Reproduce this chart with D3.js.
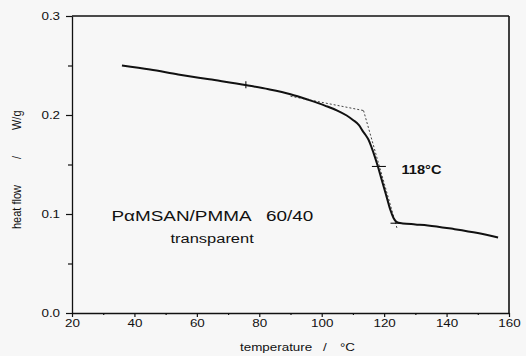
<!DOCTYPE html>
<html>
<head>
<meta charset="utf-8">
<script src="https://cdn.jsdelivr.net/npm/d3@7"></script>
<style>
  html, body { margin: 0; padding: 0; background: #f7f7f7; }
  svg { display: block; }
  text { font-family: "Liberation Sans", Arial, sans-serif; fill: #111; }
</style>
</head>
<body>
<svg id="chart" width="526" height="356"></svg>
<script>
// DSC trace: heat flow vs temperature
const temperature = [36, 45, 54, 64, 76, 83, 90, 96, 101, 105, 108, 110, 112, 113, 114, 115, 116, 117, 118, 119, 120, 121, 122, 123, 123.8, 124.6, 126, 130, 134, 142, 150, 156.5];
const heatFlow    = [0.250, 0.246, 0.241, 0.236, 0.230, 0.226, 0.221, 0.215, 0.2095, 0.2045, 0.1995, 0.195, 0.1895, 0.1845, 0.180, 0.175, 0.167, 0.158, 0.148, 0.137, 0.126, 0.115, 0.104, 0.096, 0.0925, 0.0912, 0.0905, 0.0895, 0.0885, 0.0850, 0.0808, 0.0762];

// construction lines for the glass transition
const baselineTangent = [[90, 0.219], [113.4, 0.2045]];
const stepTangent     = [[113.4, 0.2045], [124.1, 0.0858]];

// marks on the curve: onset of extrapolation, Tg, end of step
const onsetMark = [75.7, 0.230];
const tgMark    = [118, 0.148];
const endMark   = [124.6, 0.0912];
const tgLabel   = "118°C";

const xMajorTicks = [20, 40, 60, 80, 100, 120, 140, 160];
const xMinorTicks = [30, 50, 70, 90, 110, 130, 150];
const yMajorTicks = [0.0, 0.1, 0.2, 0.3];
const yMinorTicks = [0.05, 0.15, 0.25];

const sampleName = "PαMSAN/PMMA";
const sampleRatio = "60/40";
const sampleNote = "transparent";

const SX = 1.22; // horizontal stretch applied to the lettering

const svg = d3.select("#chart");
const x = d3.scaleLinear().domain([20, 160]).range([72, 509]);
const y = d3.scaleLinear().domain([0, 0.3]).range([313, 16]);

// frame: top and right edges
svg.append("line").attr("x1", x(20)).attr("x2", x(160)).attr("y1", y(0.3)).attr("y2", y(0.3))
  .attr("stroke", "#111").attr("stroke-width", 1.6);
svg.append("line").attr("x1", x(160)).attr("x2", x(160)).attr("y1", y(0.3)).attr("y2", y(0))
  .attr("stroke", "#111").attr("stroke-width", 1.6);

// x axis
const gx = svg.append("g").attr("transform", `translate(0,${y(0)})`)
  .call(d3.axisBottom(x).tickValues(xMajorTicks).tickFormat(d3.format("d"))
    .tickSize(4).tickSizeOuter(0).tickPadding(2.5));
gx.append("g").call(d3.axisBottom(x).tickValues(xMinorTicks).tickFormat("").tickSize(2).tickSizeOuter(0))
  .select(".domain").remove();
gx.selectAll("text").attr("transform", `scale(${SX},1)`).style("font-size", "11px").attr("fill", "#111");

// y axis
const gy = svg.append("g").attr("transform", `translate(${x(20)},0)`)
  .call(d3.axisLeft(y).tickValues(yMajorTicks).tickFormat(d3.format(".1f"))
    .tickSize(6).tickSizeOuter(0).tickPadding(3.8));
gy.append("g").call(d3.axisLeft(y).tickValues(yMinorTicks).tickFormat("").tickSize(4).tickSizeOuter(0))
  .select(".domain").remove();
gy.selectAll("text").attr("transform", `scale(${SX},1)`).style("font-size", "11px").attr("fill", "#111");

svg.selectAll(".domain").attr("stroke", "#111").attr("stroke-width", 1.3);
svg.selectAll(".tick line").attr("stroke", "#111").attr("stroke-width", 1.2);

// axis titles
function stretchedText(px, py, str, size, weight) {
  return svg.append("text")
    .attr("transform", `translate(${px},${py}) scale(${SX},1)`)
    .style("font-size", size + "px")
    .style("font-weight", weight || "normal")
    .text(str);
}
stretchedText(240, 350.5, "temperature", 11);
stretchedText(323, 350.5, "/", 11);
stretchedText(340, 350.5, "°C", 11);

function verticalText(py, str) {
  return svg.append("text")
    .attr("transform", `translate(21,${py}) rotate(-90) scale(1,${SX})`)
    .style("font-size", "11px")
    .text(str);
}
verticalText(229, "heat flow");
verticalText(159, "/");
verticalText(130, "W/g");

// construction lines
const lineGen = d3.line().x(d => x(d[0])).y(d => y(d[1]));
[baselineTangent, stepTangent].forEach(seg => {
  svg.append("path").attr("d", lineGen(seg))
    .attr("fill", "none").attr("stroke", "#444").attr("stroke-width", 1)
    .attr("stroke-dasharray", "2,2");
});

// DSC curve
const curve = d3.line().x(d => x(d[0])).y(d => y(d[1])).curve(d3.curveMonotoneX);
svg.append("path").datum(d3.zip(temperature, heatFlow))
  .attr("d", curve)
  .attr("fill", "none").attr("stroke", "#111").attr("stroke-width", 2)
  .attr("stroke-linejoin", "round");

// marks on the curve
svg.append("line")
  .attr("x1", x(onsetMark[0])).attr("x2", x(onsetMark[0]))
  .attr("y1", y(onsetMark[1]) - 4).attr("y2", y(onsetMark[1]) + 3)
  .attr("stroke", "#111").attr("stroke-width", 1.1);
svg.append("line")
  .attr("x1", x(tgMark[0]) - 6).attr("x2", x(tgMark[0]) + 8)
  .attr("y1", y(tgMark[1])).attr("y2", y(tgMark[1]))
  .attr("stroke", "#111").attr("stroke-width", 1.1);
svg.append("line")
  .attr("x1", x(endMark[0]) - 8).attr("x2", x(endMark[0]) + 2)
  .attr("y1", y(endMark[1]) + 0.5).attr("y2", y(endMark[1]) + 0.5)
  .attr("stroke", "#111").attr("stroke-width", 1.1);

// annotations
stretchedText(401.5, 174, tgLabel, 12, "bold");
stretchedText(111.5, 220.5, sampleName, 15.5);
stretchedText(266, 220.5, sampleRatio, 15.5);
stretchedText(170.5, 242.5, sampleNote, 13.5);
</script>
</body>
</html>
